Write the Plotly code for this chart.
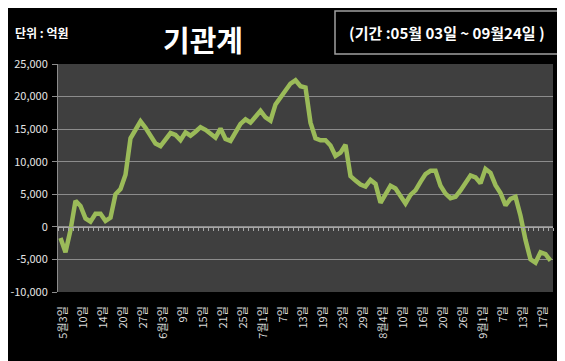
import plotly.graph_objects as go

# Trading days (2010-05-03 .. 2010-09-24)
may = [3, 4, 6, 7, 10, 11, 12, 13, 14, 17, 18, 19, 20, 24, 25, 26, 27, 28, 31]
jun = [1, 3, 4, 7, 8, 9, 10, 11, 14, 15, 16, 17, 18, 21, 22, 23, 24, 25, 28, 29, 30]
jul = [1, 2, 5, 6, 7, 8, 9, 12, 13, 14, 15, 16, 19, 20, 21, 22, 23, 26, 27, 28, 29, 30]
aug = [2, 3, 4, 5, 6, 9, 10, 11, 12, 13, 16, 17, 18, 19, 20, 23, 24, 25, 26, 27, 30, 31]
sep = [1, 2, 3, 6, 7, 8, 9, 10, 13, 14, 15, 16, 17, 20, 24]
dates = ([f"5월{d}일" for d in may] + [f"6월{d}일" for d in jun] + [f"7월{d}일" for d in jul]
         + [f"8월{d}일" for d in aug] + [f"9월{d}일" for d in sep])

# 기관 누적 순매수 (억원)
values = [
    -1700, -3900, -500, 4000, 3200, 1300, 800, 2000, 2000, 900,
    1400, 5000, 5800, 8000, 13600, 15000, 16200, 15200, 14000, 12800,
    12400, 13400, 14400, 14100, 13300, 14500, 14000, 14600, 15300, 14900,
    14400, 13700, 15100, 13500, 13200, 14600, 15800, 16500, 16000, 16900,
    17800, 16800, 16300, 18800, 19800, 21000, 22000, 22500, 21600, 21400,
    16000, 13600, 13300, 13300, 12500, 10900, 11400, 12600, 7800, 7100,
    6500, 6200, 7200, 6600, 3700, 5000, 6300, 5900, 4700, 3600,
    4900, 5600, 6900, 8100, 8600, 8600, 6300, 5100, 4400, 4600,
    5600, 6700, 7900, 7600, 6700, 8900, 8300, 6400, 5200, 3300,
    4300, 4600, 1700, -2000, -5000, -5500, -3900, -4200, -5200,
]

tick_idx = list(range(0, 97, 4))
tick_text = ["5월3일", "10일", "14일", "20일", "27일", "6월3일", "9일", "15일", "21일", "25일",
             "7월1일", "7일", "13일", "19일", "23일", "29일", "8월4일", "10일", "16일", "20일",
             "26일", "9월1일", "7일", "13일", "17일"]

y_ticks = [25000, 20000, 15000, 10000, 5000, 0, -5000, -10000]
y_text = ["25,000", "20,000", "15,000", "10,000", "5,000", "0", "-5,000", "-10,000"]

FONT = "Noto Sans CJK KR"
n = len(values)
xs = list(range(n))

# page offset (browser body margin)
OFF = 8
W, H = 565 - OFF, 361 - OFF
L, R, T, B = 58 - OFF, 12, 64 - OFF, 69
PW, PH = 495, 228  # plot area size in px; plot spans page x 58..553, y 64..292


def px(xp):
    return (xp - 58) / PW


def py(yp):
    return (292 - yp) / PH


fig = go.Figure()
# helper (invisible) trace so the zero-line tick axis is drawn
fig.add_trace(go.Scatter(
    x=xs, y=values, xaxis="x2", mode="lines", line=dict(width=0, color="rgba(0,0,0,0)"),
    hoverinfo="skip", showlegend=False,
))
fig.add_trace(go.Scatter(
    x=xs, y=values, mode="lines", customdata=dates,
    line=dict(color="#9BBB59", width=4.5, shape="linear"),
    hovertemplate="%{customdata}: %{y:,}<extra></extra>",
    showlegend=False,
))

fig.update_layout(
    width=W, height=H,
    paper_bgcolor="#000000", plot_bgcolor="#3F3F3F",
    margin=dict(l=L, r=R, t=T, b=B, autoexpand=False),
    font=dict(family=FONT, color="#E0E0E0", size=11),
    xaxis=dict(
        range=[-0.5, n - 0.5], tickmode="array", tickvals=tick_idx, ticktext=tick_text,
        tickangle=-90, showgrid=False, zeroline=False, showline=False, ticks="",
        ticklabelstandoff=11, ticklabelshift=3,
        tickfont=dict(size=11, color="#D9D9D9", family=FONT), automargin=False,
    ),
    xaxis2=dict(
        overlaying="x", anchor="free", position=10 / 35, side="bottom",
        range=[-0.5, n - 0.5], tickmode="array", tickvals=[i - 0.5 for i in range(n + 1)],
        showticklabels=False, ticks="outside", ticklen=3, tickcolor="#A6A6A6", tickwidth=1,
        showline=True, linecolor="#A6A6A6", linewidth=1, showgrid=False, zeroline=False,
        automargin=False,
    ),
    yaxis=dict(
        range=[-10000, 25000], tickmode="array", tickvals=y_ticks, ticktext=y_text,
        showgrid=True, gridcolor="#8C8C8C", gridwidth=1, zeroline=False,
        showline=True, linecolor="#8C8C8C", linewidth=1,
        ticks="outside", ticklen=5, tickcolor="#8C8C8C", ticklabelstandoff=2,
        tickfont=dict(size=11, color="#E6E6E6", family=FONT), automargin=False,
    ),
    shapes=[
        dict(type="rect", xref="paper", yref="paper", x0=px(335), x1=px(559),
             y0=py(54), y1=py(11),
             line=dict(color="#A0A0A0", width=1.5), fillcolor="rgba(0,0,0,0)"),
    ],
    annotations=[
        dict(text="<b>기관계</b>", xref="paper", yref="paper",
             x=px(203), y=py(39), xanchor="center", yanchor="middle",
             showarrow=False, font=dict(size=29, color="#FFFFFF", family=FONT)),
        dict(text="<b>단위 : 억원</b>", xref="paper", yref="paper",
             x=px(13), y=py(33), xanchor="left", yanchor="middle",
             showarrow=False, font=dict(size=12, color="#FFFFFF", family=FONT)),
        dict(text="<b>(기간 :05월 03일 ~ 09월24일 )</b>", xref="paper", yref="paper",
             x=px(447), y=py(33), xanchor="center", yanchor="middle",
             showarrow=False, font=dict(size=15, color="#FFFFFF", family=FONT)),
    ],
)

fig.write_html("out.html")
